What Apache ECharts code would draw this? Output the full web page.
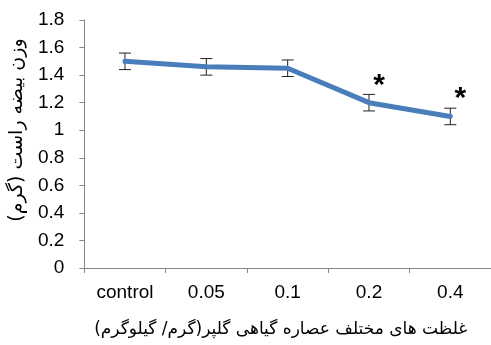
<!DOCTYPE html>
<html><head><meta charset="utf-8">
<script src="https://cdn.jsdelivr.net/npm/echarts@6/dist/echarts.min.js"></script>
<style>html,body{margin:0;padding:0;background:#fff}#c{width:491px;height:345px}</style>
</head><body><div id="c"></div>
<script>
const categories = ['control', '0.05', '0.1', '0.2', '0.4'];
const weights = [1.50, 1.46, 1.45, 1.20, 1.10];
const errors = [0.06, 0.06, 0.06, 0.06, 0.06];
const significance = ['', '', '', '*', '*'];
const yMin = 0, yMax = 1.8, yInterval = 0.2;
const xAxisTitle = 'غلظت های مختلف عصاره گیاهی گلپر(گرم/ گیلوگرم)';
const yAxisTitle = 'وزن بیضه راست (گرم)';

const chart = echarts.init(document.getElementById('c'));
const errData = categories.map((c, i) => [i, weights[i] - errors[i], weights[i] + errors[i], significance[i]]);
const font = "'Liberation Sans', Arial, 'DejaVu Sans', sans-serif";
const axisColor = '#868686';

chart.setOption({
  animation: false,
  grid: { left: 82, right: 0, top: 20, bottom: 77 },
  xAxis: {
    type: 'category', data: categories, boundaryGap: true,
    axisLine: { lineStyle: { color: axisColor, width: 1 } },
    axisTick: { show: true, length: 5, lineStyle: { color: axisColor } },
    axisLabel: { color: '#000', fontSize: 19, fontFamily: font, margin: 15 },
    name: xAxisTitle, nameLocation: 'middle', nameGap: 53,
    nameTextStyle: { color: '#000', fontSize: 17, fontFamily: "'DejaVu Sans', sans-serif", padding: [0, 14, 0, 0] }
  },
  yAxis: {
    type: 'value', min: yMin, max: yMax, interval: yInterval,
    splitLine: { show: false },
    axisLine: { show: true, lineStyle: { color: axisColor, width: 1 } },
    axisTick: { show: true, length: 5, lineStyle: { color: axisColor } },
    axisLabel: { color: '#000', fontSize: 19, fontFamily: font, margin: 20 },
    name: yAxisTitle, nameLocation: 'middle', nameGap: 50, nameRotate: 90,
    nameTextStyle: { color: '#000', fontSize: 19, fontFamily: "'DejaVu Sans', sans-serif", padding: [0, 0, 0, 28] }
  },
  series: [
    {
      type: 'custom', z: 1,
      data: errData,
      renderItem: function (params, api) {
        const x = api.value(0);
        const lo = api.coord([x, api.value(1)]);
        const hi = api.coord([x, api.value(2)]);
        const w = 6;
        const st = { stroke: '#222', lineWidth: 1 };
        const children = [
          { type: 'line', shape: { x1: lo[0], y1: lo[1], x2: hi[0], y2: hi[1] }, style: st },
          { type: 'line', shape: { x1: lo[0] - w, y1: lo[1], x2: lo[0] + w, y2: lo[1] }, style: st },
          { type: 'line', shape: { x1: hi[0] - w, y1: hi[1], x2: hi[0] + w, y2: hi[1] }, style: st }
        ];
        const mark = api.value(3);
        if (mark) {
          children.push({ type: 'text', z2: 10, style: { text: mark, x: hi[0] + 10, y: hi[1] - 9, fontSize: 30, fontWeight: 'bold', fontFamily: font, fill: '#000', align: 'center', verticalAlign: 'middle' } });
        }
        return { type: 'group', children: children };
      }
    },
    {
      type: 'line', z: 3, data: weights, symbol: 'none',
      lineStyle: { color: '#4A7EBB', width: 5, cap: 'round', join: 'round' }
    }
  ]
});
</script></body></html>
